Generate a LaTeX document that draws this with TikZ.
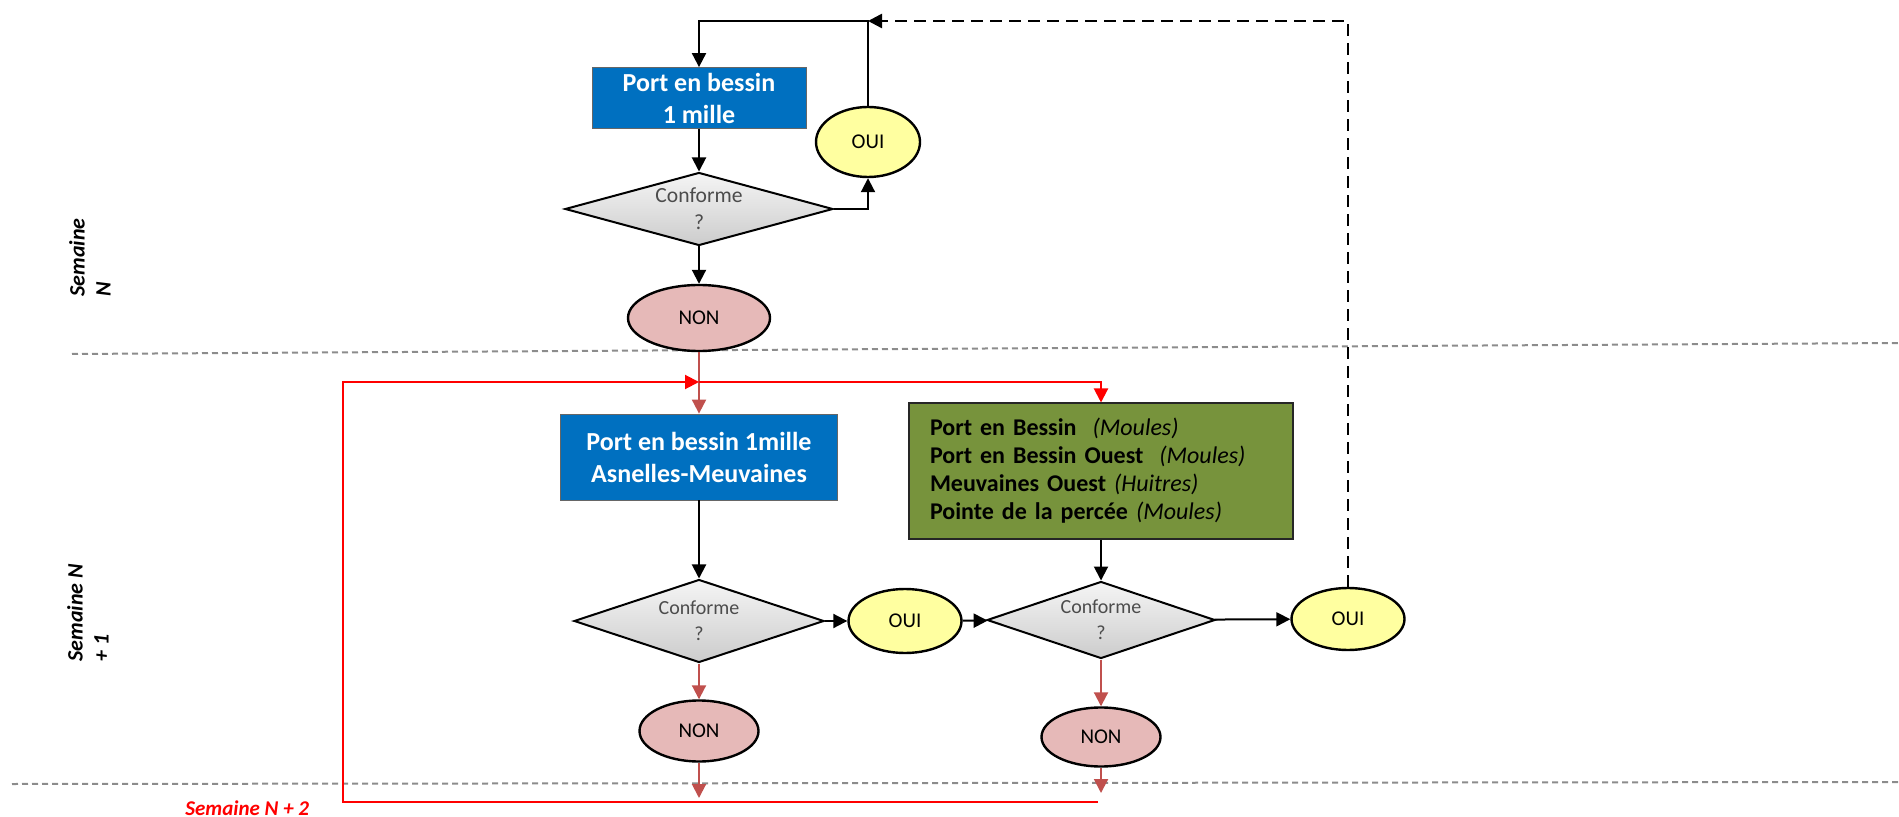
\documentclass[tikz,border=0pt]{standalone}
\usepackage{fontspec}
\setmainfont{Carlito}
\usepackage{tikz}
\usetikzlibrary{arrows.meta,shapes.geometric,positioning}
\usepackage{xcolor}
\definecolor{pbblue}{RGB}{0,112,192}
\definecolor{pbgreen}{RGB}{119,147,60}
\definecolor{pbyellow}{RGB}{255,255,160}
\definecolor{pbpink}{RGB}{230,185,184}
\definecolor{pbred}{RGB}{192,80,77}
\newcommand{\coquillage}[1]{{\mdseries\itshape (#1)}}
\tikzstyle{bluebox} = [rectangle, draw=black!60, fill=pbblue, text=white, align=center, inner sep=0pt, font=\fontsize{13}{16}\selectfont\bfseries]
\tikzstyle{greenbox} = [rectangle, draw=black!85, line width=1pt, fill=pbgreen, align=left, text width=171pt, inner xsep=10.5pt, inner ysep=0pt, font=\fontsize{12}{14}\selectfont\bfseries]
\tikzstyle{decision} = [diamond, aspect=3, draw=black, line width=1pt, top color=gray!8, bottom color=gray!40, text=black!70, align=center, inner sep=0pt, font=\fontsize{10}{13}\selectfont]
\tikzstyle{ouinode} = [ellipse, draw=black, line width=1.2pt, fill=pbyellow, inner sep=0pt, font=\fontsize{10.5}{12}\selectfont]
\tikzstyle{nonnode} = [ellipse, draw=black, line width=1.2pt, fill=pbpink, inner sep=0pt, font=\fontsize{10.5}{12}\selectfont]
\tikzstyle{arrow} = [line width=1pt, -{Triangle[length=7pt,width=7pt]}]
\tikzstyle{nonarrow} = [arrow, color=pbred]
\tikzstyle{redline} = [line width=1pt, color=red]
\tikzstyle{sepline} = [line width=1pt, color=black!45, dash pattern=on 3pt off 2pt]
\tikzstyle{weeklabel} = [rotate=90, anchor=west, align=left, inner sep=0pt, font=\fontsize{11}{13}\selectfont\bfseries\itshape]

\begin{document}
\begin{tikzpicture}[x=0.5pt, y=-0.5pt]
\useasboundingbox (0,0) rectangle (1899,817);

% Week separators and labels
\draw[sepline] (72,354) -- (1899,343);
\draw[sepline] (12,784) -- (1899,782);
\node (wkN) [weeklabel] at (90,297) {Semaine\\N};
\node (wkN1) [weeklabel] at (88,662) {Semaine N\\+ 1};
\node (wkN2) [anchor=west, inner sep=0pt, text=red, font=\fontsize{10.5}{12}\selectfont\bfseries\itshape] at (185,808) {Semaine N + 2};

% Week N
\node (box1) [bluebox, minimum width=107pt, minimum height=30.5pt] at (699,98) {Port en bessin\\1 mille};
\node (d1) [decision, minimum width=134pt, minimum height=36.5pt, font=\fontsize{10.8}{13.5}\selectfont] at (699,209) {Conforme\\?};
\node (oui1) [ouinode, minimum width=52pt, minimum height=35pt] at (868,142) {OUI};
\node (non1) [nonnode, minimum width=71pt, minimum height=33pt] at (699,318) {NON};
\coordinate (looptop) at (868,21);

% Week N+1
\node (box2) [bluebox, minimum width=138.5pt, minimum height=43pt] at (699,457) {Port en bessin 1mille\\Asnelles-Meuvaines};
\node (d2) [decision, minimum width=125pt, minimum height=41.5pt] at (699,621) {Conforme\\?};
\node (oui2) [ouinode, minimum width=56.5pt, minimum height=32pt] at (905,621) {OUI};
\node (non2) [nonnode, minimum width=59.5pt, minimum height=30.5pt] at (699,731) {NON};
\node (green) [greenbox, minimum height=67.5pt] at (1101,471) {Port en Bessin ~\coquillage{Moules}\\Port en Bessin Ouest ~\coquillage{Moules}\\Meuvaines Ouest \coquillage{Huitres}\\Pointe de la percée \coquillage{Moules}};
\node (d3) [decision, minimum width=114pt, minimum height=38.5pt] at (1101,620) {Conforme\\?};
\node (oui3) [ouinode, minimum width=56.5pt, minimum height=31pt] at (1348,619) {OUI};
\node (non3) [nonnode, minimum width=59.5pt, minimum height=29.5pt] at (1101,737) {NON};

% Red loop to week N+2
\coordinate (redtl) at (343,382);
\coordinate (redbl) at (343,802);
\coordinate (redbr) at (1098,802);
\coordinate (n2end) at (699,798);
\coordinate (n3end) at (1101,793);

% Arrows
\draw[arrow] (box1) -- (d1);
\draw[arrow] (d1) -- (non1);
\draw[arrow] (d1.east) -| (oui1.south);
\draw[arrow] (oui1.north) -- (looptop) -| (box1.north);
\draw[arrow, line width=1.3pt, dash pattern=on 6pt off 3.5pt] (oui3.north) |- (looptop);
\draw[nonarrow] (non1) -- (box2);
\draw[arrow] (box2) -- (d2);
\draw[arrow] (d2) -- (oui2);
\draw[arrow] (oui2) -- (d3);
\draw[arrow] (green) -- (d3);
\draw[arrow] (d3) -- (oui3);
\draw[nonarrow] (d2) -- (non2);
\draw[nonarrow] (d3) -- (non3);
\draw[nonarrow] (non2.south) -- (n2end);
\draw[nonarrow] (non3.south) -- (n3end);
\draw[redline, -{Triangle[length=7pt,width=7pt]}] (redbr) -- (redbl) -- (redtl) -- (box2.north |- redtl);
\draw[redline, -{Triangle[length=7pt,width=7pt]}] (box2.north |- redtl) -| (green.north);
\end{tikzpicture}
\end{document}
